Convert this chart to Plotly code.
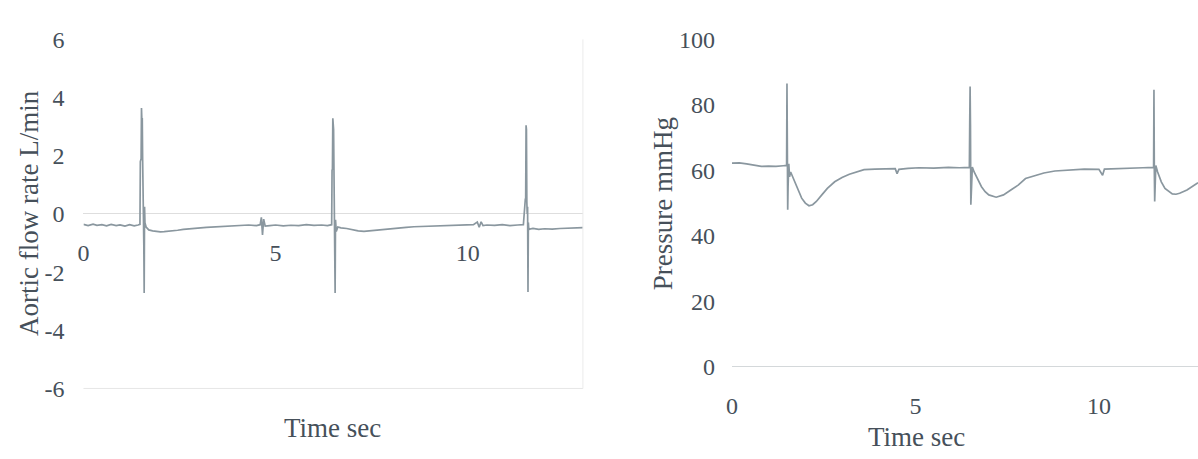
import plotly.graph_objects as go

# ---------------- data ----------------
flow_t = [0.00, 0.12, 0.25, 0.35, 0.48, 0.60, 0.72, 0.85, 0.95, 1.08, 1.20, 1.32, 1.42, 1.47,
          1.48, 1.49, 1.50, 1.51, 1.52, 1.53, 1.54, 1.55, 1.56, 1.57, 1.58, 1.59, 1.60, 1.63,
          1.70, 1.80, 1.90, 2.00, 2.10, 2.20, 2.30, 2.45, 2.60, 2.75, 2.90, 3.05, 3.20, 3.35,
          3.50, 3.70, 3.90, 4.10, 4.30, 4.50, 4.60, 4.63, 4.66, 4.69, 4.73, 4.85, 5.00, 5.20,
          5.40, 5.60, 5.80, 6.00, 6.20, 6.35, 6.46, 6.47, 6.48, 6.49, 6.50, 6.51, 6.52, 6.53,
          6.54, 6.55, 6.56, 6.58, 6.62, 6.70, 6.85, 7.00, 7.15, 7.30, 7.45, 7.60, 7.80, 8.00,
          8.20, 8.40, 8.60, 8.80, 9.00, 9.20, 9.40, 9.60, 9.80, 10.00, 10.15, 10.25, 10.30,
          10.35, 10.40, 10.50, 10.70, 10.90, 11.10, 11.30, 11.45, 11.50, 11.51, 11.52, 11.53,
          11.54, 11.55, 11.56, 11.57, 11.58, 11.59, 11.60, 11.62, 11.70, 11.85, 12.00, 12.20,
          12.40, 12.60, 12.80, 13.00]
flow_v = [-0.36, -0.40, -0.35, -0.39, -0.37, -0.41, -0.36, -0.40, -0.38, -0.42, -0.37, -0.41, -0.38, -0.36,
          1.80, 1.85, 1.90, 3.64, 3.20, 3.30, 1.85, -0.40, -0.60, -1.00, -2.72, 0.25, -0.30, -0.45,
          -0.55, -0.58, -0.60, -0.62, -0.61, -0.60, -0.57, -0.56, -0.53, -0.52, -0.49, -0.48, -0.46, -0.45,
          -0.43, -0.42, -0.40, -0.41, -0.38, -0.40, -0.37, -0.12, -0.72, -0.18, -0.42, -0.40, -0.38, -0.41,
          -0.39, -0.40, -0.37, -0.39, -0.38, -0.40, -0.37, 1.50, 1.55, 3.29, 3.00, 2.90, 1.50, -0.40,
          0.20, -2.72, -0.20, -0.60, -0.45, -0.48, -0.50, -0.55, -0.58, -0.60, -0.58, -0.55, -0.52, -0.49,
          -0.47, -0.46, -0.44, -0.43, -0.44, -0.41, -0.40, -0.39, -0.40, -0.38, -0.37, -0.28, -0.46,
          -0.27, -0.40, -0.38, -0.39, -0.37, -0.40, -0.38, -0.37, 0.50, 0.55, 3.05, 2.90, 0.40,
          0.00, 0.25, -2.68, -0.30, -0.55, -0.50, -0.52, -0.50, -0.53, -0.51, -0.52,
          -0.50, -0.49, -0.48, -0.47]

pres_t = [0.00, 0.20, 0.40, 0.60, 0.80, 1.00, 1.20, 1.40, 1.49, 1.50, 1.51, 1.52, 1.53, 1.55,
          1.57, 1.60, 1.70, 1.80, 1.90, 2.00, 2.10, 2.20, 2.30, 2.45, 2.60, 2.80, 3.00, 3.20,
          3.40, 3.60, 3.90, 4.20, 4.45, 4.50, 4.55, 4.80, 5.10, 5.50, 5.90, 6.20, 6.47, 6.48,
          6.49, 6.50, 6.51, 6.53, 6.55, 6.60, 6.70, 6.80, 6.90, 7.00, 7.20, 7.40, 7.60, 7.80,
          8.00, 8.20, 8.50, 8.80, 9.20, 9.60, 10.00, 10.10, 10.15, 10.50, 10.90, 11.20, 11.49,
          11.50, 11.51, 11.52, 11.53, 11.55, 11.60, 11.70, 11.80, 11.90, 12.00, 12.10, 12.20,
          12.40, 12.60, 12.70]
pres_v = [62.2, 62.3, 62.0, 61.5, 61.2, 61.3, 61.2, 61.4, 61.5, 86.5, 61.0, 48.0, 55.0, 62.0,
          58.0, 59.5, 57.0, 54.0, 51.5, 50.0, 49.2, 49.5, 50.5, 52.5, 54.5, 56.5, 57.8, 58.8,
          59.6, 60.2, 60.4, 60.5, 60.5, 59.0, 60.3, 60.6, 60.8, 60.7, 60.9, 60.8, 60.9, 75.0,
          85.6, 74.0, 49.5, 55.0, 61.0, 59.5, 57.0, 55.0, 53.5, 52.5, 51.8, 52.5, 54.0, 55.5,
          57.5, 58.2, 59.2, 59.8, 60.2, 60.4, 60.3, 58.5, 60.4, 60.6, 60.7, 60.8, 60.9,
          84.6, 60.0, 50.5, 56.0, 61.5, 59.5, 56.5, 54.5, 53.5, 52.8, 52.7, 53.0,
          54.0, 55.5, 56.2]

x_ticks = [0, 5, 10]
flow_ticks = [-6, -4, -2, 0, 2, 4, 6]
flow_tick_text = ["-6", "-4", "-2", "0", "2", "4", "6"]
pres_ticks = [0, 20, 40, 60, 80, 100]

# ---------------- figure ----------------
LINE = "#8a979f"
TXT = "#46505a"
FONT = "Liberation Serif"
TICK = 24
TITLE = 27
W, H = 1198, 459

fig = go.Figure()
fig.add_trace(go.Scatter(x=flow_t, y=flow_v, mode="lines", line=dict(color=LINE, width=1.7),
                         xaxis="x", yaxis="y", showlegend=False))
fig.add_trace(go.Scatter(x=pres_t, y=pres_v, mode="lines", line=dict(color=LINE, width=1.7),
                         xaxis="x2", yaxis="y2", showlegend=False))

fig.update_layout(
    width=W, height=H,
    margin=dict(l=0, r=0, t=0, b=0),
    paper_bgcolor="white", plot_bgcolor="white",
    font=dict(family=FONT, color=TXT, size=TICK),
    xaxis=dict(domain=[0.065, 0.484], range=[0, 13], anchor="free", position=0.498,
               tickvals=x_ticks, ticks="", showline=False, showgrid=False, zeroline=False,
               tickfont=dict(size=TICK), ticklabelstandoff=6),
    yaxis=dict(domain=[1 - 398 / H, 1 - 28 / H], range=[-6, 6], anchor="x",
               tickvals=flow_ticks, ticktext=flow_tick_text,
               ticks="", showline=False, showgrid=False, zeroline=True,
               zerolinecolor="#dedede", zerolinewidth=1, tickfont=dict(size=TICK),
               ticklabelstandoff=18),
    xaxis2=dict(domain=[0.609, 1.0], range=[0, 12.7], anchor="y2",
                tickvals=x_ticks, ticks="", showline=False, showgrid=False, zeroline=False,
                tickfont=dict(size=TICK), ticklabelstandoff=22),
    yaxis2=dict(domain=[1 - 375 / H, 1 - 28 / H], range=[0, 100], anchor="x2",
                tickvals=pres_ticks,
                ticks="", showline=False, showgrid=False, zeroline=True,
                zerolinecolor="#d4d8da", zerolinewidth=1, tickfont=dict(size=TICK),
                ticklabelstandoff=16),
    shapes=[
        dict(type="line", xref="x domain", yref="y domain", x0=0, x1=1, y0=0, y1=0,
             line=dict(color="#e6e6e6", width=1)),
        dict(type="line", xref="x domain", yref="y domain", x0=1, x1=1, y0=0, y1=1,
             line=dict(color="#ebebeb", width=1)),
    ],
    annotations=[
        dict(text="Time sec", xref="paper", yref="paper", x=328 / W, y=1 - 440 / H,
             yanchor="middle", xanchor="center", showarrow=False, font=dict(size=TITLE)),
        dict(text="Time sec", xref="paper", yref="paper", x=915 / W, y=1 - 449 / H,
             yanchor="middle", xanchor="center", showarrow=False, font=dict(size=TITLE)),
        dict(text="Aortic flow rate L/min", xref="paper", yref="paper", x=23 / W,
             y=1 - 212 / H, textangle=-90, xanchor="center", yanchor="middle",
             showarrow=False, font=dict(size=TITLE)),
        dict(text="Pressure mmHg", xref="paper", yref="paper", x=660 / W,
             y=1 - 202 / H, textangle=-90, xanchor="center", yanchor="middle",
             showarrow=False, font=dict(size=TITLE)),
    ],
)

fig.write_html("out.html")
